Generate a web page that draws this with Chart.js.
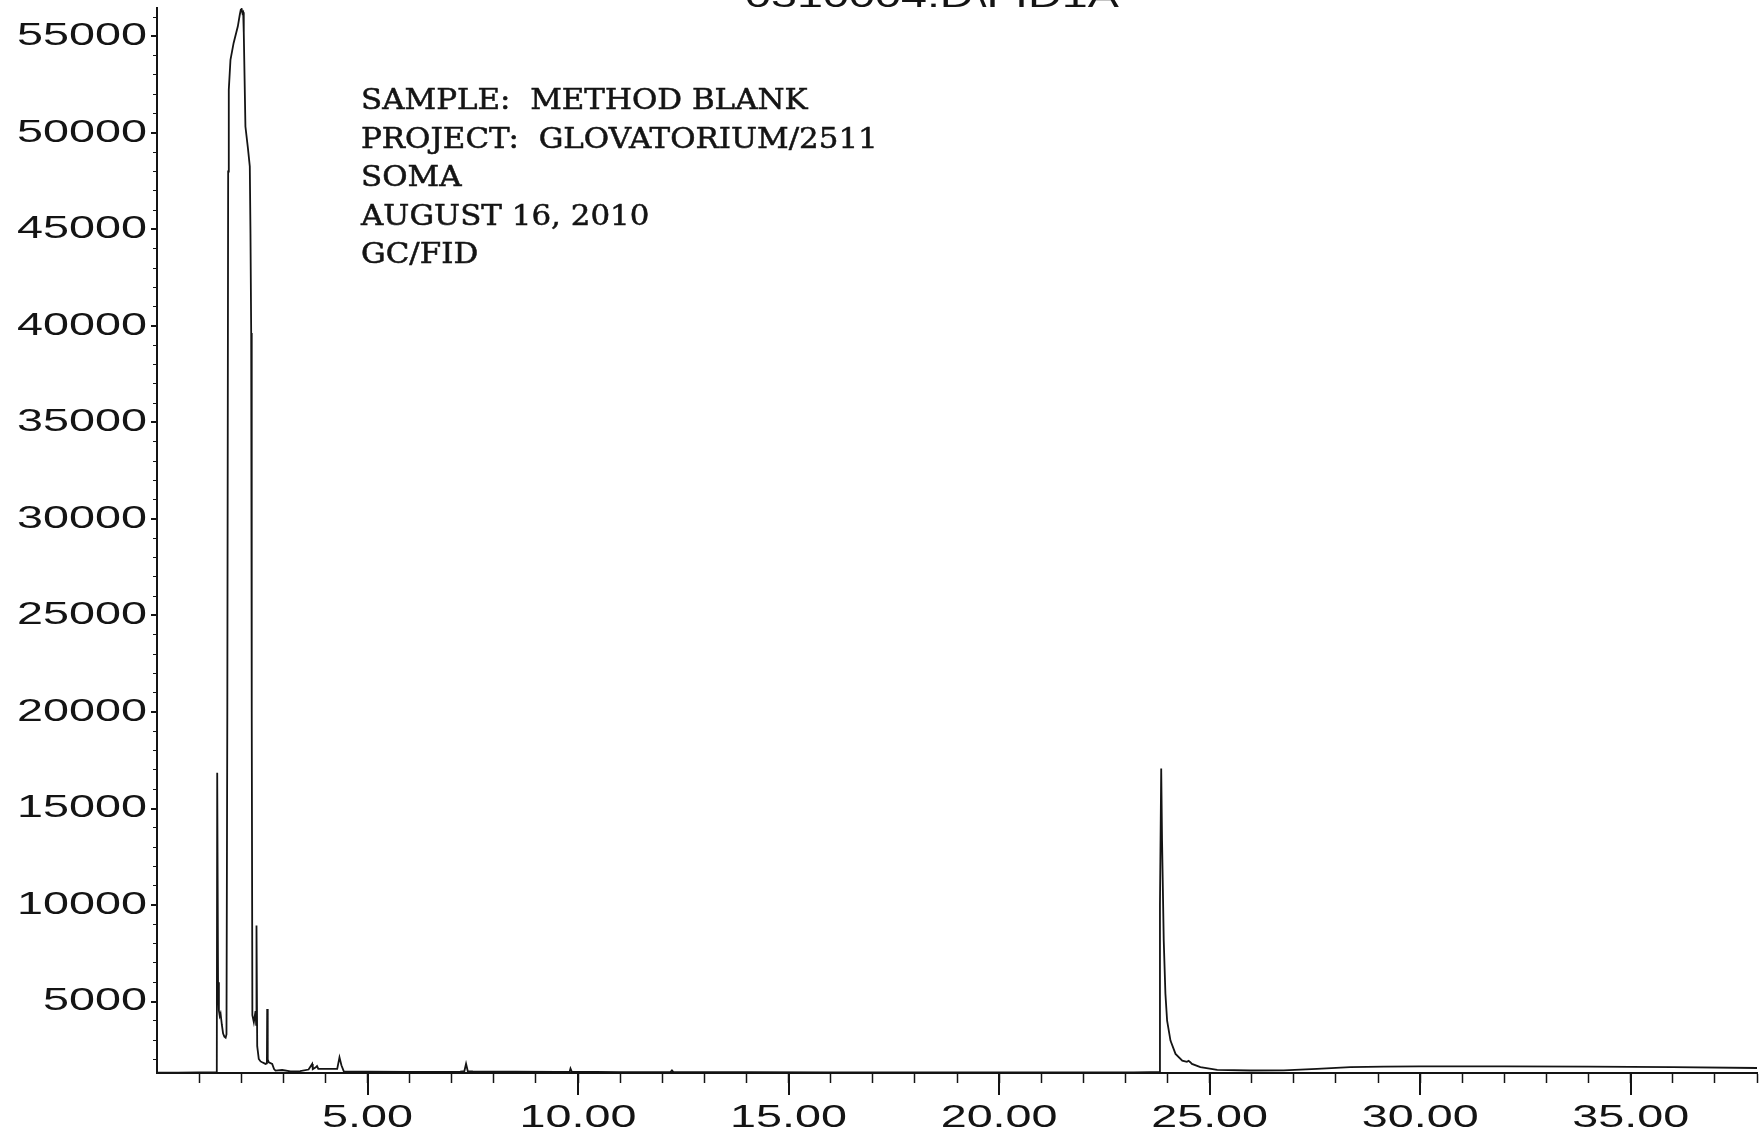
<!DOCTYPE html>
<html>
<head>
<meta charset="utf-8">
<title>FID1A chromatogram</title>
<script src="https://cdn.jsdelivr.net/npm/chart.js@4/dist/chart.umd.min.js"></script>
<style>
  html, body { margin: 0; padding: 0; background: #ffffff; overflow: hidden; }
  #wrap { width: 1764px; height: 1135px; position: relative; }
</style>
</head>
<body>
<div id="wrap"><canvas id="chromatogram"></canvas></div>
<script>
// Retention time (min) and detector response for the method blank run
const retentionTimes = [
  0.00, 0.50, 1.00, 1.40, 1.42, 1.43, 1.45, 1.47, 1.49, 1.51, 1.54, 1.57, 1.60, 1.63, 1.65,
  1.67, 1.69, 1.705, 1.745, 1.82, 1.92, 1.966, 1.99, 2.01, 2.03, 2.047, 2.061, 2.10, 2.16,
  2.204, 2.22, 2.237, 2.25, 2.265, 2.30, 2.34, 2.355, 2.363, 2.38, 2.417, 2.46, 2.498, 2.577,
  2.61, 2.617, 2.63, 2.655, 2.736, 2.78, 2.814, 2.973, 3.17, 3.40, 3.60, 3.686, 3.70, 3.764,
  3.80, 3.83, 4.00, 4.28, 4.334, 4.38, 4.436, 5.00, 6.00, 7.20, 7.30, 7.34, 7.38, 7.50, 8.50,
  9.50, 9.80, 9.82, 9.85, 11.00, 12.20, 12.23, 12.26, 14.00, 16.00, 18.00, 20.00, 22.00,
  23.20, 23.60, 23.80, 23.82, 23.85, 23.87, 23.91, 23.95, 23.99, 24.07, 24.19, 24.35, 24.46,
  24.50, 24.54, 24.58, 24.78, 25.18, 25.97, 26.76, 27.55, 28.34, 29.13, 30.00, 32.00, 34.00,
  36.00, 38.00
];
const detectorSignal = [
  1320, 1320, 1325, 1330, 1335, 16860, 6000, 4530, 4250, 4380, 3800, 3340, 3180, 3130, 3300,
  20000, 48000, 52240, 53790, 54660, 55520, 56120, 56380, 56420, 56200, 56250, 55190, 50330, 49200,
  48260, 44800, 39630, 20000, 4300, 3930, 4500, 3800, 8940, 2690, 2030, 1900, 1855, 1770,
  1800, 4620, 2000, 1850, 1770, 1500, 1420, 1455, 1380, 1400, 1480, 1770, 1500, 1580,
  1660, 1520, 1510, 1510, 2110, 1700, 1385, 1370, 1360, 1370, 1400, 1780, 1400, 1380, 1370,
  1360, 1370, 1530, 1370, 1350, 1360, 1440, 1360, 1340, 1330, 1330, 1325, 1325,
  1330, 1345, 1340, 10000, 17070, 13350, 8160, 5400, 4015, 2980, 2290, 1940, 1880,
  1930, 1860, 1770, 1600, 1460, 1430, 1440, 1518, 1600, 1635, 1640, 1640, 1630,
  1600, 1560
];

// Axis ranges, tick spacing and labelled tick values
const timeRange = [0, 38];
const responseRange = [1300, 56470];
const timeTickStep = 1;
const responseTickStep = 1000;
const labelledTimes = [5, 10, 15, 20, 25, 30, 35];
const labelledResponses = [5000, 10000, 15000, 20000, 25000, 30000, 35000, 40000, 45000, 50000, 55000];

// Header and sample description
const signalTitle = '0310004.D\\FID1A';
const sampleNotes = [
  'SAMPLE:  METHOD BLANK',
  'PROJECT:  GLOVATORIUM/2511',
  'SOMA',
  'AUGUST 16, 2010',
  'GC/FID'
];

const INK = '#141414';
const AXIS_FONT = 'Liberation Sans';
const AXIS_STRETCH = 1.46;      // the plotter's sans face is extended
const NOTE_FONT = 'DejaVu Serif';
const NOTE_STRETCH = 1.145;

// Draw the extended sans face by widening glyphs around the text anchor
function widenAxisText(ctx) {
  const plain = ctx.fillText;
  ctx.fillText = function (text, x, y, maxWidth) {
    if (String(this.font).indexOf(AXIS_FONT) !== -1) {
      this.save();
      this.translate(x, y);
      this.scale(AXIS_STRETCH, 1);
      plain.call(this, text, 0, 0);
      this.restore();
    } else if (maxWidth === undefined) {
      plain.call(this, text, x, y);
    } else {
      plain.call(this, text, x, y, maxWidth);
    }
  };
}

// Every step between the axis bounds gets a tick mark
function stepTicks(scale, step) {
  const out = [];
  const first = Math.ceil(scale.min / step) * step;
  for (let v = first; v <= scale.max + 1e-9; v += step) out.push({ value: v });
  scale.ticks = out;
}

// Fixed axis band sizes; the plot runs right up to the page edges
function fixBand(scale, size) {
  if (scale.isHorizontal()) scale.height = size; else scale.width = size;
  scale.paddingTop = 0;
  scale.paddingBottom = 0;
  scale.paddingLeft = 0;
  scale.paddingRight = 0;
}

// Longer marks for the labelled ticks
const majorTickMarks = {
  id: 'majorTickMarks',
  afterDraw(chart) {
    const { ctx, scales: { x, y } } = chart;
    ctx.save();
    ctx.strokeStyle = INK;
    ctx.lineWidth = 2;
    ctx.beginPath();
    labelledTimes.forEach(t => {
      const px = Math.round(x.getPixelForValue(t));
      ctx.moveTo(px, x.top);
      ctx.lineTo(px, x.top + 22);
    });
    labelledResponses.forEach(v => {
      const py = Math.round(y.getPixelForValue(v));
      ctx.moveTo(y.right - 6, py);
      ctx.lineTo(y.right, py);
    });
    ctx.stroke();
    ctx.restore();
  }
};

// Signal header (runs off the top edge) and the sample description block
const headerText = {
  id: 'headerText',
  afterDraw(chart) {
    const ctx = chart.ctx;
    ctx.save();
    ctx.fillStyle = INK;
    ctx.textAlign = 'left';
    ctx.textBaseline = 'alphabetic';
    ctx.font = '32px "' + AXIS_FONT + '"';
    ctx.fillText(signalTitle, 745, 7);

    ctx.font = '27px "' + NOTE_FONT + '"';
    ctx.strokeStyle = INK;
    ctx.lineWidth = 0.5;
    sampleNotes.forEach((line, i) => {
      ctx.save();
      ctx.translate(361, 109 + i * 38.5);
      ctx.scale(NOTE_STRETCH, 1);
      ctx.fillText(line, 0, 0);
      ctx.strokeText(line, 0, 0);
      ctx.restore();
    });
    ctx.restore();
  }
};

const canvas = document.getElementById('chromatogram');
widenAxisText(canvas.getContext('2d'));

new Chart(canvas, {
  type: 'line',
  data: {
    datasets: [{
      data: retentionTimes.map((t, i) => ({ x: t, y: detectorSignal[i] })),
      borderColor: INK,
      borderWidth: 1.8,
      pointRadius: 0,
      tension: 0,
      fill: false
    }]
  },
  options: {
    responsive: true,
    maintainAspectRatio: false,
    animation: false,
    devicePixelRatio: 1,
    layout: { padding: { top: 8, right: 7, left: 0, bottom: 0 } },
    plugins: {
      legend: { display: false },
      tooltip: { enabled: false },
      title: { display: false }
    },
    scales: {
      x: {
        type: 'linear',
        position: 'bottom',
        min: timeRange[0],
        max: timeRange[1],
        afterBuildTicks(scale) { stepTicks(scale, timeTickStep); },
        afterFit(scale) { fixBand(scale, 62); },
        ticks: {
          autoSkip: false,
          maxRotation: 0,
          minRotation: 0,
          padding: 16,
          color: INK,
          font: { family: AXIS_FONT, size: 32 },
          callback: v => labelledTimes.includes(v) ? v.toFixed(2) : ''
        },
        grid: {
          drawOnChartArea: false,
          drawTicks: true,
          tickLength: 10,
          tickWidth: 1.5,
          tickColor: c => (c.tick && c.tick.value === 0) ? 'rgba(0,0,0,0)' : INK
        },
        border: { display: true, color: INK, width: 2 }
      },
      y: {
        type: 'linear',
        position: 'left',
        min: responseRange[0],
        max: responseRange[1],
        afterBuildTicks(scale) { stepTicks(scale, responseTickStep); },
        afterFit(scale) { fixBand(scale, 157); },
        ticks: {
          autoSkip: false,
          padding: 6,
          color: INK,
          font: { family: AXIS_FONT, size: 32 },
          callback: v => labelledResponses.includes(v) ? String(v) : ''
        },
        grid: {
          drawOnChartArea: false,
          drawTicks: true,
          tickLength: 4,
          tickWidth: 1,
          tickColor: INK
        },
        border: { display: true, color: INK, width: 2 }
      }
    }
  },
  plugins: [majorTickMarks, headerText]
});
</script>
</body>
</html>
